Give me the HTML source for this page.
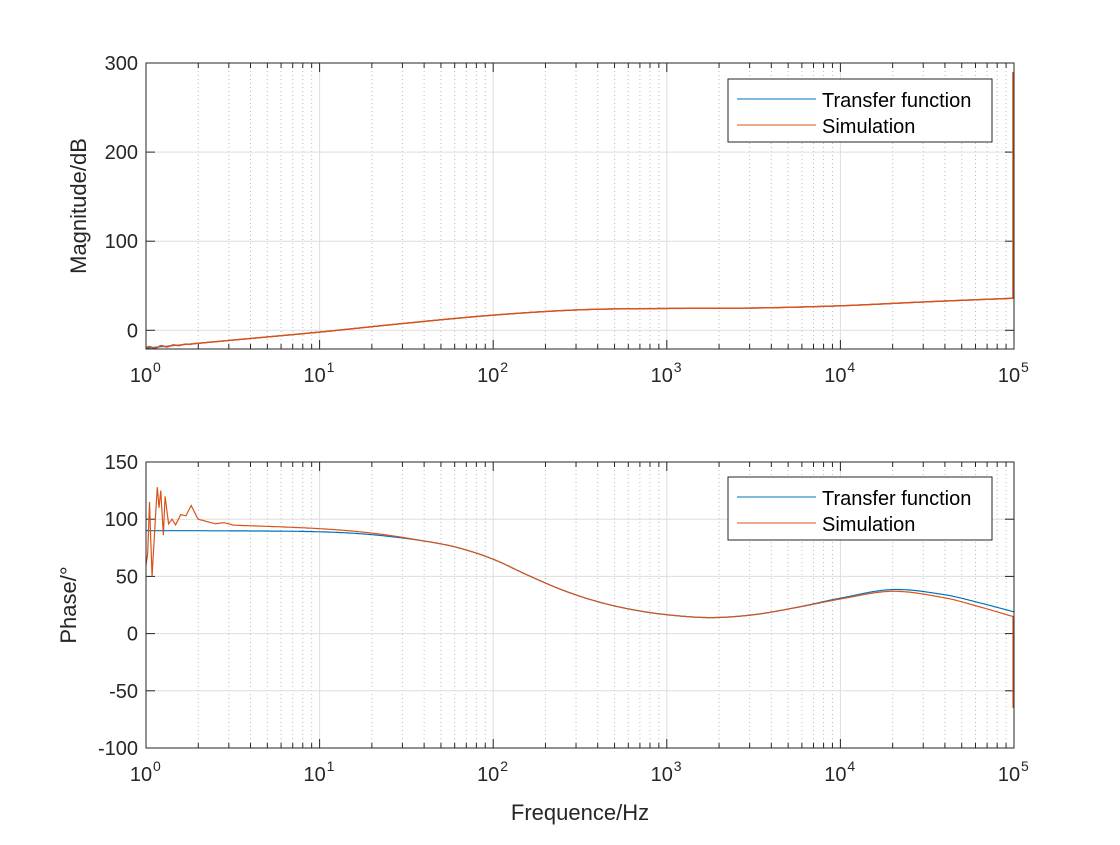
<!DOCTYPE html>
<html><head><meta charset="utf-8"><style>
body{margin:0;background:#fff}
svg text{font-family:"Liberation Sans",Arial,sans-serif;fill:#262626}
</style></head><body>
<svg id="s" width="1120" height="840" xmlns="http://www.w3.org/2000/svg"></svg>
<script>
const S=document.getElementById('s');let h='';
const X0=146,X1=1014,D=(X1-X0)/5;
const lx=f=>X0+Math.log10(f)*D;
function axes(top,bot,ymin,ymax,ticks){
 const ty=v=>bot-(v-ymin)/(ymax-ymin)*(bot-top);
 for(let d=0;d<5;d++)for(let k=2;k<10;k++){const x=lx(Math.pow(10,d)*k);h+=`<line x1="${x}" y1="${top}" x2="${x}" y2="${bot}" stroke="#bbb" stroke-width="1" stroke-dasharray="1,3"/>`;
  h+=`<line x1="${x}" y1="${top}" x2="${x}" y2="${top+5}" stroke="#262626"/><line x1="${x}" y1="${bot}" x2="${x}" y2="${bot-5}" stroke="#262626"/>`;}
 for(let d=1;d<5;d++){const x=lx(Math.pow(10,d));h+=`<line x1="${x}" y1="${top}" x2="${x}" y2="${bot}" stroke="#dedede"/>`;}
 ticks.forEach(v=>{const y=ty(v);h+=`<line x1="${X0}" y1="${y}" x2="${X1}" y2="${y}" stroke="#dedede"/><line x1="${X0}" y1="${y}" x2="${X0+9}" y2="${y}" stroke="#262626"/><line x1="${X1}" y1="${y}" x2="${X1-9}" y2="${y}" stroke="#262626"/><text x="${X0-8}" y="${y+7}" font-size="20" text-anchor="end">${v}</text>`;});
 for(let d=0;d<=5;d++){const x=lx(Math.pow(10,d));h+=`<line x1="${x}" y1="${top}" x2="${x}" y2="${top+9}" stroke="#262626"/><line x1="${x}" y1="${bot}" x2="${x}" y2="${bot-9}" stroke="#262626"/><text x="${x-5}" y="${bot+33}" font-size="20" text-anchor="middle">10</text><text x="${x+7}" y="${bot+23}" font-size="14">${d}</text>`;}
 return ty;
}
function cr(pts,lf){let n=pts.length;for(let i=0;i<n-1;i++){if(lf<=pts[i+1][0]||i==n-2){const p0=pts[Math.max(0,i-1)],p1=pts[i],p2=pts[i+1],p3=pts[Math.min(n-1,i+2)];const t=Math.max(0,Math.min(1,(lf-p1[0])/(p2[0]-p1[0])));
 const dx=p2[0]-p1[0];const m1=(p2[1]-p0[1])/(p2[0]-p0[0])*dx, m2=(p3[1]-p1[1])/(p3[0]-p1[0])*dx;
 const t2=t*t,t3=t2*t;return (2*t3-3*t2+1)*p1[1]+(t3-2*t2+t)*m1+(-2*t3+3*t2)*p2[1]+(t3-t2)*m2;}}}
function lin(pts,lf){for(let i=0;i<pts.length-1;i++){if(lf<=pts[i+1][0]){const a=pts[i],b=pts[i+1],t=(lf-a[0])/(b[0]-a[0]);return a[1]+(b[1]-a[1])*t;}}return pts[pts.length-1][1];}
function path(fn,ty){let d='';for(let i=0;i<=1000;i++){const lf=i/200;d+=(i?'L':'M')+(X0+lf*D).toFixed(1)+','+ty(fn(lf)).toFixed(1);}return d;}
let ty=axes(63,349,-21,300,[0,100,200,300]);
const mag=[[0,-20],[0.5,-11],[1,-2],[1.5,8],[2,17],[2.5,23],[3,24.5],[3.5,25],[4,27.5],[4.5,32],[5,36]];
let m=lf=>cr(mag,lf);
h+=`<path d="${path(m,ty)}" fill="none" stroke="#0072BD" stroke-width="1.2"/>`;
let ms=lf=>m(lf)+(lf<0.3?Math.sin(lf*90)*1.5*(1-lf/0.3):0);
h+=`<path d="${path(ms,ty)} L${X1-1},${ty(36)} L${X1-1},${ty(290)}" fill="none" stroke="#D95319" stroke-width="1.5"/>`;
h+=`<rect x="${X0}" y="63" width="${X1-X0}" height="286" fill="none" stroke="#262626"/>`;
ty=axes(462,748,-100,150,[-100,-50,0,50,100,150]);
const ph=[[0,90],[0.5,89.8],[1,89],[1.3,86.5],[1.6,81],[1.8,75],[2,65],[2.2,51],[2.4,38],[2.6,28],[2.8,21],[3,16.5],[3.25,14],[3.5,16.5],[3.75,23],[4,31],[4.3,38.5],[4.6,34],[4.8,27],[5,19]];
let p=lf=>cr(ph,lf);
h+=`<path d="${path(p,ty)}" fill="none" stroke="#0072BD" stroke-width="1.2"/>`;
const lown=[[0,60],[0.01,70],[0.02,115],[0.035,50],[0.05,90],[0.065,128],[0.075,110],[0.085,125],[0.1,86],[0.11,120],[0.13,96],[0.15,100],[0.17,95],[0.2,104],[0.23,103],[0.26,112],[0.3,100],[0.35,98],[0.4,96],[0.45,97],[0.5,95]];
let ps=lf=>{if(lf<0.5)return lin(lown,lf);let v=p(lf);if(lf<1.6)v+=(1.6-lf)/1.1*5;if(lf>3.7)v-=Math.min(1,(lf-3.7)/0.6)*(1.5+Math.max(0,lf-4.3)*4);return v;};
h+=`<path d="${path(ps,ty)} L${X1-1},${ty(15)} L${X1-1},${ty(-65)}" fill="none" stroke="#D95319" stroke-width="1.2"/>`;
h+=`<rect x="${X0}" y="462" width="${X1-X0}" height="286" fill="none" stroke="#262626"/>`;
[79,477].forEach(y=>{h+=`<rect x="728" y="${y}" width="264" height="63" fill="#fff" stroke="#262626"/>
<line x1="737" y1="${y+20}" x2="816" y2="${y+20}" stroke="#0072BD"/><line x1="737" y1="${y+46}" x2="816" y2="${y+46}" stroke="#D95319"/>
<text x="822" y="${y+28}" font-size="20" style="fill:#000">Transfer function</text><text x="822" y="${y+54}" font-size="20" style="fill:#000">Simulation</text>`;});
h+=`<text transform="translate(86,206) rotate(-90)" font-size="22" text-anchor="middle">Magnitude/dB</text>`;
h+=`<text transform="translate(76,605) rotate(-90)" font-size="22" text-anchor="middle">Phase/°</text>`;
h+=`<text x="580" y="820" font-size="22" text-anchor="middle">Frequence/Hz</text>`;
S.innerHTML=h;
</script>
</body></html>
